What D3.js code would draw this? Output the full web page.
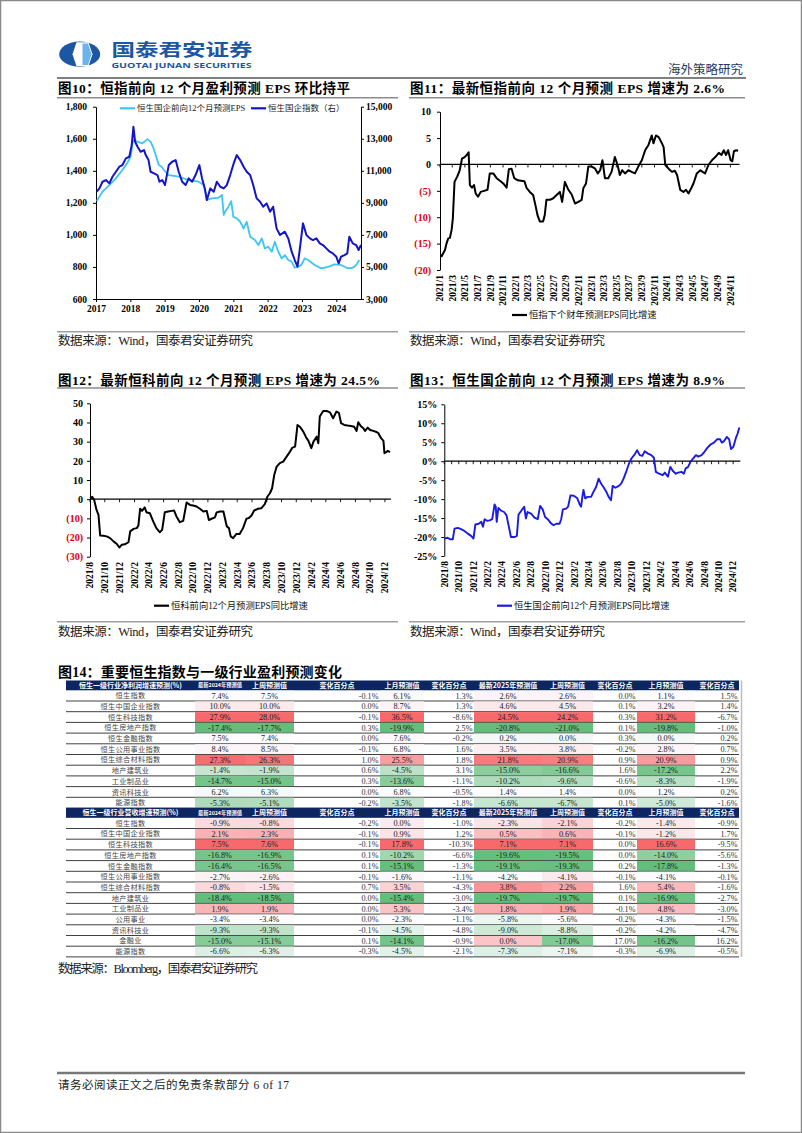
<!DOCTYPE html>
<html><head><meta charset="utf-8">
<script src="https://cdn.jsdelivr.net/npm/d3@7"></script>
<style>body{margin:0;background:#fff}svg{display:block}</style>
</head><body>
<svg id="page" width="802" height="1133"></svg>
<script>
// ---------------- DATA ----------------
// Fig 10: [decimal year, value]
const epsTicks = [600, 800, 1000, 1200, 1400, 1600, 1800];
const idxTicks = [3000, 5000, 7000, 9000, 11000, 13000, 15000];
const yearTicks = [2017, 2018, 2019, 2020, 2021, 2022, 2023, 2024];
const hsceiEps = [[2017.02,1211],[2017.19,1270],[2017.39,1311],[2017.58,1353],[2017.77,1405],[2017.92,1452],[2018.01,1488],[2018.08,1592],[2018.21,1582],[2018.35,1571],[2018.5,1598],[2018.59,1582],[2018.66,1550],[2018.74,1498],[2018.83,1436],[2018.91,1425],[2018.98,1405],[2019.12,1373],[2019.41,1363],[2019.7,1342],[2019.99,1332],[2020.14,1311],[2020.23,1218],[2020.38,1228],[2020.57,1232],[2020.67,1249],[2020.72,1124],[2020.76,1145],[2020.86,1176],[2020.94,1211],[2021.0,1113],[2021.1,1103],[2021.2,1082],[2021.3,1040],[2021.39,1082],[2021.49,989],[2021.63,968],[2021.73,937],[2021.83,978],[2021.92,916],[2022.02,926],[2022.12,895],[2022.21,957],[2022.31,895],[2022.41,854],[2022.5,874],[2022.6,843],[2022.7,833],[2022.79,795],[2022.89,801],[2022.98,812],[2023.08,853],[2023.18,843],[2023.37,812],[2023.56,791],[2023.76,801],[2023.95,816],[2024.14,812],[2024.24,801],[2024.34,791],[2024.48,795],[2024.58,812],[2024.67,843]];
const hsceiIndex = [[2017.02,9694],[2017.1,9902],[2017.19,10318],[2017.29,10422],[2017.39,10214],[2017.48,10630],[2017.58,10942],[2017.68,11254],[2017.77,11358],[2017.87,11773],[2017.97,11877],[2018.04,12605],[2018.09,13748],[2018.14,12813],[2018.21,12501],[2018.3,12189],[2018.4,12293],[2018.45,11981],[2018.53,11669],[2018.59,10942],[2018.69,10838],[2018.79,10734],[2018.85,10318],[2018.93,10422],[2019.01,10110],[2019.12,11358],[2019.22,11565],[2019.32,11669],[2019.41,10942],[2019.51,10318],[2019.61,10110],[2019.7,10526],[2019.8,10318],[2019.9,10734],[2020.01,11358],[2020.09,10526],[2020.17,9902],[2020.23,9175],[2020.33,9902],[2020.43,9694],[2020.52,10318],[2020.62,10006],[2020.72,9902],[2020.81,10110],[2020.91,10734],[2021.01,11461],[2021.1,11981],[2021.2,11669],[2021.3,11254],[2021.39,10942],[2021.49,10734],[2021.58,10110],[2021.68,9279],[2021.78,9071],[2021.87,8759],[2021.97,8967],[2022.07,8447],[2022.16,8759],[2022.26,7407],[2022.36,6992],[2022.5,7200],[2022.6,6784],[2022.7,5952],[2022.79,5432],[2022.87,5017],[2022.94,6160],[2023.03,7719],[2023.13,6992],[2023.23,6784],[2023.32,6680],[2023.42,6784],[2023.52,6472],[2023.61,6368],[2023.71,6160],[2023.81,5952],[2023.9,5848],[2024.0,5640],[2024.07,5225],[2024.14,5640],[2024.24,5744],[2024.32,5848],[2024.38,6888],[2024.48,6472],[2024.58,6368],[2024.65,6056],[2024.72,6368]];

// Fig 11
const c11YTicks = [-20, -15, -10, -5, 0, 5, 10];
const c11XLabels = ["2021/1","2021/3","2021/5","2021/7","2021/9","2021/11","2022/1","2022/3","2022/5","2022/7","2022/9","2022/11","2023/1","2023/3","2023/5","2023/7","2023/9","2023/11","2024/1","2024/3","2024/5","2024/7","2024/9","2024/11"];
const hsiEpsGrowth = [["2021-01-04",-17.1],["2021-01-09",-17.4],["2021-01-25",-16.2],["2021-02-02",-14.9],["2021-02-10",-14.0],["2021-02-18",-13.9],["2021-02-26",-12.4],["2021-03-04",-10.2],["2021-03-12",-3.3],["2021-03-25",-2.3],["2021-04-06",-1.1],["2021-04-17",1.1],["2021-04-30",1.4],["2021-05-12",1.9],["2021-05-19",2.3],["2021-05-25",-3.9],["2021-06-04",-4.4],["2021-06-14",-3.9],["2021-06-22",-5.5],["2021-07-03",-6.1],["2021-07-16",-5.2],["2021-08-02",-5.0],["2021-08-18",-4.8],["2021-08-29",-1.7],["2021-09-15",-1.7],["2021-10-01",-2.6],["2021-10-17",-3.1],["2021-11-02",-3.6],["2021-11-18",-4.4],["2021-11-29",-0.9],["2021-12-12",-0.8],["2021-12-25",-2.6],["2022-01-11",-3.0],["2022-01-27",-3.1],["2022-02-12",-3.2],["2022-02-23",-4.5],["2022-03-10",-5.2],["2022-03-26",-5.8],["2022-04-06",-7.7],["2022-04-16",-9.6],["2022-04-27",-10.8],["2022-05-13",-10.8],["2022-05-21",-9.6],["2022-05-29",-6.7],["2022-06-15",-6.7],["2022-07-01",-6.4],["2022-07-17",-5.8],["2022-08-02",-5.2],["2022-08-13",-7.1],["2022-08-26",-3.3],["2022-09-12",-4.8],["2022-09-28",-5.7],["2022-10-14",-7.4],["2022-10-30",-7.1],["2022-11-15",-6.7],["2022-11-23",-4.5],["2022-12-06",-3.6],["2022-12-17",-0.4],["2023-01-03",-0.4],["2023-01-19",-0.8],["2023-02-01",-1.7],["2023-02-12",-1.1],["2023-02-23",0.8],["2023-03-07",-2.6],["2023-03-23",-2.6],["2023-04-08",-1.4],["2023-04-24",1.4],["2023-05-07",-0.1],["2023-05-18",-2.0],["2023-05-29",-1.1],["2023-06-12",-1.7],["2023-06-28",-1.1],["2023-07-14",-1.4],["2023-07-30",-1.7],["2023-08-15",-0.4],["2023-09-01",0.8],["2023-09-17",2.7],["2023-10-03",3.7],["2023-10-19",5.5],["2023-10-27",4.0],["2023-11-08",5.5],["2023-11-21",5.2],["2023-12-07",4.0],["2023-12-15",3.3],["2023-12-23",-0.1],["2024-01-08",-0.8],["2024-01-24",-1.4],["2024-02-07",-1.2],["2024-02-18",-2.0],["2024-03-04",-4.8],["2024-03-20",-5.2],["2024-04-01",-4.8],["2024-04-13",-5.5],["2024-04-26",-4.5],["2024-05-07",-3.6],["2024-05-23",-1.7],["2024-06-09",-1.1],["2024-06-20",-1.4],["2024-07-02",-1.7],["2024-07-18",-0.1],["2024-08-04",0.8],["2024-08-20",1.4],["2024-09-06",2.2],["2024-09-19",1.8],["2024-09-30",2.7],["2024-10-11",1.8],["2024-10-21",2.7],["2024-11-02",0.8],["2024-11-10",0.6],["2024-11-18",2.5],["2024-11-29",2.7],["2024-12-08",2.6]];

// Fig 12
const c12YTicks = [-30, -20, -10, 0, 10, 20, 30, 40, 50];
const monthLabels2 = ["2021/8","2021/10","2021/12","2022/2","2022/4","2022/6","2022/8","2022/10","2022/12","2023/2","2023/4","2023/6","2023/8","2023/10","2023/12","2024/2","2024/4","2024/6","2024/8","2024/10","2024/12"];
const hstechEpsGrowth = [["2021-08-01",0.5],["2021-08-10",1.2],["2021-08-18",-0.3],["2021-08-28",-5.6],["2021-09-05",-8.2],["2021-09-12",-18.9],["2021-09-25",-19.1],["2021-10-09",-19.4],["2021-10-23",-20.3],["2021-11-06",-22.0],["2021-11-20",-23.4],["2021-11-30",-25.2],["2021-12-10",-23.8],["2021-12-24",-23.5],["2022-01-07",-22.4],["2022-01-14",-16.8],["2022-01-28",-15.5],["2022-02-10",-15.1],["2022-02-17",-13.7],["2022-02-24",-5.0],["2022-03-04",-6.1],["2022-03-15",-4.3],["2022-03-22",-6.8],["2022-04-05",-7.3],["2022-04-19",-11.6],["2022-05-02",-15.1],["2022-05-16",-17.2],["2022-05-26",-16.0],["2022-06-06",-6.8],["2022-06-20",-6.4],["2022-07-03",-6.1],["2022-07-14",-5.9],["2022-07-24",-9.0],["2022-08-07",-12.0],["2022-08-21",-11.3],["2022-09-04",-1.7],["2022-09-18",-3.0],["2022-10-01",-3.3],["2022-10-15",-3.8],["2022-10-29",-5.0],["2022-11-12",-6.4],["2022-11-26",-6.1],["2022-12-05",-10.9],["2022-12-16",-10.2],["2022-12-30",-9.5],["2023-01-06",-6.9],["2023-01-20",-6.4],["2023-02-03",-6.4],["2023-02-17",-14.2],["2023-02-26",-15.1],["2023-03-05",-19.4],["2023-03-15",-20.3],["2023-03-28",-18.2],["2023-04-11",-18.2],["2023-04-25",-15.1],["2023-05-09",-10.2],["2023-05-18",-9.9],["2023-05-30",-8.5],["2023-06-10",-5.9],["2023-06-26",-5.0],["2023-07-10",-4.7],["2023-07-24",-2.6],["2023-08-04",1.4],["2023-08-14",3.1],["2023-08-23",5.7],["2023-09-01",12.7],["2023-09-11",17.0],["2023-09-24",18.8],["2023-10-08",19.6],["2023-10-22",22.2],["2023-11-05",24.8],["2023-11-15",26.9],["2023-11-26",27.4],["2023-12-06",38.7],["2023-12-16",37.8],["2023-12-30",35.2],["2024-01-09",32.6],["2024-01-20",30.4],["2024-02-01",26.6],["2024-02-10",30.0],["2024-02-23",32.6],["2024-03-01",29.2],["2024-03-07",43.1],["2024-03-21",46.0],["2024-04-04",46.0],["2024-04-18",45.3],["2024-05-01",42.2],["2024-05-15",45.7],["2024-05-25",45.0],["2024-06-03",39.6],["2024-06-16",38.7],["2024-06-30",38.4],["2024-07-13",38.2],["2024-07-27",37.8],["2024-08-06",35.6],["2024-08-13",40.1],["2024-08-24",38.0],["2024-09-03",37.0],["2024-09-10",35.6],["2024-09-21",37.3],["2024-10-01",36.1],["2024-10-14",35.6],["2024-10-24",35.2],["2024-11-04",34.4],["2024-11-15",31.8],["2024-11-25",30.4],["2024-11-29",24.0],["2024-12-06",24.5],["2024-12-13",25.2],["2024-12-22",24.5]];

// Fig 13
const c13YTicks = [-25, -20, -15, -10, -5, 0, 5, 10, 15];
const hsceiEpsGrowth = [["2021-08-01",-20.4],["2021-08-15",-20.2],["2021-08-25",-20.6],["2021-09-06",-20.6],["2021-09-13",-17.8],["2021-09-27",-17.6],["2021-10-11",-17.9],["2021-10-25",-18.4],["2021-11-08",-19.1],["2021-11-22",-19.7],["2021-12-02",-20.4],["2021-12-10",-16.7],["2021-12-24",-16.5],["2022-01-04",-16.0],["2022-01-11",-17.3],["2022-01-18",-15.3],["2022-01-28",-15.7],["2022-02-08",-15.6],["2022-02-19",-15.3],["2022-03-01",-11.4],["2022-03-06",-12.0],["2022-03-10",-16.0],["2022-03-17",-12.3],["2022-03-27",-13.0],["2022-04-10",-13.4],["2022-04-20",-14.2],["2022-04-29",-16.9],["2022-05-09",-20.0],["2022-05-23",-20.0],["2022-06-03",-19.7],["2022-06-10",-14.1],["2022-06-20",-13.2],["2022-07-04",-12.0],["2022-07-11",-15.1],["2022-07-18",-13.4],["2022-08-02",-13.8],["2022-08-16",-14.9],["2022-08-30",-15.3],["2022-09-09",-11.8],["2022-09-20",-12.7],["2022-09-30",-14.7],["2022-10-11",-15.3],["2022-10-25",-16.4],["2022-11-05",-16.9],["2022-11-16",-16.5],["2022-11-30",-16.5],["2022-12-07",-15.3],["2022-12-14",-12.7],["2022-12-28",-12.5],["2023-01-05",-12.0],["2023-01-15",-9.0],["2023-01-29",-9.1],["2023-02-12",-9.7],["2023-02-23",-11.4],["2023-03-01",-12.0],["2023-03-07",-9.0],["2023-03-11",-7.6],["2023-03-18",-9.8],["2023-03-28",-9.4],["2023-04-12",-9.4],["2023-04-22",-8.1],["2023-05-03",-6.8],["2023-05-14",-4.6],["2023-05-24",-5.9],["2023-06-03",-6.8],["2023-06-14",-7.9],["2023-06-25",-9.4],["2023-07-05",-10.3],["2023-07-12",-6.5],["2023-07-24",-7.0],["2023-08-07",-6.5],["2023-08-17",-5.9],["2023-08-27",-4.6],["2023-09-08",-2.6],["2023-09-19",-0.6],["2023-09-29",0.7],["2023-10-13",1.8],["2023-10-23",2.9],["2023-11-03",1.6],["2023-11-14",1.4],["2023-11-24",2.6],["2023-12-08",2.0],["2023-12-22",1.6],["2024-01-02",0.9],["2024-01-10",-2.8],["2024-01-24",-3.3],["2024-02-08",-3.7],["2024-02-17",-3.0],["2024-03-01",-4.1],["2024-03-11",-1.5],["2024-03-22",-2.6],["2024-04-03",-3.3],["2024-04-13",-3.0],["2024-04-27",-2.8],["2024-05-07",-3.3],["2024-05-15",-1.9],["2024-05-25",-1.5],["2024-06-04",-0.2],["2024-06-15",0.7],["2024-06-27",1.6],["2024-07-07",1.2],["2024-07-21",1.6],["2024-07-31",2.3],["2024-08-14",3.5],["2024-08-28",4.4],["2024-09-11",4.9],["2024-09-25",5.8],["2024-10-07",5.8],["2024-10-14",4.9],["2024-10-24",5.3],["2024-11-04",6.4],["2024-11-14",5.8],["2024-11-22",3.2],["2024-12-02",3.8],["2024-12-13",6.2],["2024-12-20",7.3],["2024-12-27",8.9]];

// Fig 14 table
const npHeader = ["恒生一级行业净利润增速预测(%)","最新2024年预测值","上周预测值","变化百分点","上月预测值","变化百分点","最新2025年预测值","上周预测值","变化百分点","上月预测值","变化百分点"];
const revHeader = ["恒生一级行业营收增速预测(%)","最新2024年预测值","上周预测值","变化百分点","上月预测值","变化百分点","最新2025年预测值","上周预测值","变化百分点","上月预测值","变化百分点"];
const npLabels = ["恒生指数","恒生中国企业指数","恒生科技指数","恒生房地产指数","恒生金融指数","恒生公用事业指数","恒生综合材料指数","地产建筑业","工业制品业","资讯科技业","能源指数"];
const npRows = [
  [7.4,7.5,-0.1,6.1,1.3,2.6,2.6,0.0,1.1,1.5],
  [10.0,10.0,0.0,8.7,1.3,4.6,4.5,0.1,3.2,1.4],
  [27.9,28.0,-0.1,36.5,-8.6,24.5,24.2,0.3,31.2,-6.7],
  [-17.4,-17.7,0.3,-19.9,2.5,-20.8,-21.0,0.1,-19.8,-1.0],
  [7.5,7.4,0.0,7.6,-0.2,0.2,0.0,0.3,0.0,0.2],
  [8.4,8.5,-0.1,6.8,1.6,3.5,3.8,-0.2,2.8,0.7],
  [27.3,26.3,1.0,25.5,1.8,21.8,20.9,0.9,20.9,0.9],
  [-1.4,-1.9,0.6,-4.5,3.1,-15.0,-16.6,1.6,-17.2,2.2],
  [-14.7,-15.0,0.3,-13.6,-1.1,-10.2,-9.6,-0.6,-8.3,-1.9],
  [6.2,6.3,0.0,6.8,-0.5,1.4,1.4,0.0,1.2,0.2],
  [-5.3,-5.1,-0.2,-3.5,-1.8,-6.6,-6.7,0.1,-5.0,-1.6]
];
const revLabels = ["恒生指数","恒生中国企业指数","恒生科技指数","恒生房地产指数","恒生金融指数","恒生公用事业指数","恒生综合材料指数","地产建筑业","工业制品业","公用事业","资讯科技业","金融业","能源指数"];
const revRows = [
  [-0.9,-0.8,-0.2,0.0,-1.0,-2.3,-2.1,-0.2,-1.4,-0.9],
  [2.1,2.3,-0.1,0.9,1.2,0.5,0.6,-0.1,-1.2,1.7],
  [7.5,7.6,-0.1,17.8,-10.3,7.1,7.1,0.0,16.6,-9.5],
  [-16.8,-16.9,0.1,-10.2,-6.6,-19.6,-19.5,0.0,-14.0,-5.6],
  [-16.4,-16.5,0.1,-15.1,-1.3,-19.1,-19.3,0.2,-17.8,-1.3],
  [-2.7,-2.6,-0.1,-1.6,-1.1,-4.2,-4.1,-0.1,-4.1,-0.1],
  [-0.8,-1.5,0.7,3.5,-4.3,3.8,2.2,1.6,5.4,-1.6],
  [-18.4,-18.5,0.0,-15.4,-3.0,-19.7,-19.7,0.1,-16.9,-2.7],
  [1.9,1.9,0.0,5.3,-3.4,1.8,1.9,-0.1,4.8,-3.0],
  [-3.4,-3.4,0.0,-2.3,-1.1,-5.8,-5.6,-0.2,-4.3,-1.5],
  [-9.3,-9.3,-0.1,-4.5,-4.8,-9.0,-8.8,-0.2,-4.2,-4.7],
  [-15.0,-15.1,0.1,-14.1,-0.9,0.0,-17.0,17.0,-16.2,16.2],
  [-6.6,-6.3,-0.3,-4.5,-2.1,-7.3,-7.1,-0.3,-6.9,-0.5]
];

// ---------------- DRAWING ----------------
const SERIF = '"Liberation Serif","Noto Sans CJK SC",serif';
const CJK = '"Noto Sans CJK SC","Liberation Serif",sans-serif';
const svg = d3.select("#page");
const parse = d3.timeParse("%Y-%m-%d");
const ym = s => { const [y, m] = s.split("/").map(Number); return new Date(y, m - 1, 1); };

svg.append("rect").attr("x",0.5).attr("y",0.5).attr("width",801).attr("height",1132)
  .attr("fill","#fff").attr("stroke","#8a8a8a").attr("stroke-width",1.5);

// Header / logo
const logo = svg.append("g");
logo.append("ellipse").attr("cx",79.7).attr("cy",54.2).attr("rx",20.5).attr("ry",12.6).attr("fill","#1D56A3");
logo.append("polygon").attr("points","72.5,54.2 76.5,42.2 88.5,42.2 92.5,54.2 88.5,66.2 76.5,66.2").attr("fill","#fff");
logo.append("polygon").attr("points","82.5,43.5 88,43.5 91.5,54.2 88,65 82.5,65").attr("fill","#6FB3EC");
svg.append("text").attr("x",111.5).attr("y",55.5).attr("font-family",CJK).attr("font-weight","bold")
  .attr("font-size",17).attr("fill","#1D56A3").attr("textLength",141).attr("lengthAdjust","spacingAndGlyphs").text("国泰君安证券");
svg.append("text").attr("x",111.5).attr("y",67.5).attr("font-family",'"Open Sans","DejaVu Sans",sans-serif').attr("font-weight","bold")
  .attr("font-size",6.8).attr("fill","#1D56A3").attr("textLength",140).attr("lengthAdjust","spacingAndGlyphs").text("GUOTAI JUNAN SECURITIES");
svg.append("text").attr("x",743).attr("y",74).attr("text-anchor","end").attr("font-family",CJK)
  .attr("font-size",12.5).attr("fill","#1F3864").attr("textLength",75).text("海外策略研究");
svg.append("line").attr("x1",57).attr("x2",746).attr("y1",78).attr("y2",78).attr("stroke","#555").attr("stroke-width",1.3);

function title(x, y, w, txt, fs) {
  svg.append("text").attr("x",x).attr("y",y).attr("font-family",SERIF).attr("font-weight","bold")
    .attr("font-size",fs || 13.5).attr("fill","#000").attr("textLength",w).attr("lengthAdjust","spacing").text(txt);
}
function hline(x1, x2, y, col, w) {
  svg.append("line").attr("x1",x1).attr("x2",x2).attr("y1",y).attr("y2",y).attr("stroke",col).attr("stroke-width",w);
}
function source(x, y, w, txt) {
  svg.append("text").attr("x",x).attr("y",y).attr("font-family",SERIF).attr("font-size",12.5)
    .attr("fill","#222").attr("textLength",w).attr("lengthAdjust","spacing").text(txt);
}
function styleAxis(g, fs) {
  g.attr("font-family",SERIF).attr("font-size",fs || 9.5).attr("font-weight","bold");
  g.selectAll("path.domain").attr("stroke","#000").attr("stroke-width",1);
  g.selectAll(".tick line").attr("stroke","#000");
  g.selectAll(".tick text").attr("fill","#000");
}

// Titles and rules
title(58, 93, 292, "图10：恒指前向 12 个月盈利预测 EPS 环比持平");
title(410, 93, 315, "图11：最新恒指前向 12 个月预测 EPS 增速为 2.6%");
hline(57, 398, 97.8, "#8c8c8c", 1.6); hline(409, 745, 97.8, "#8c8c8c", 1.6);
hline(57, 398, 331.7, "#a0a0a0", 1.4); hline(409, 745, 331.7, "#a0a0a0", 1.4);
source(58, 344.5, 195, "数据来源：Wind，国泰君安证券研究");
source(410, 344.5, 195, "数据来源：Wind，国泰君安证券研究");

title(58, 384.5, 322, "图12：最新恒科前向 12 个月预测 EPS 增速为 24.5%");
title(410, 384.5, 315, "图13：恒生国企前向 12 个月预测 EPS 增速为 8.9%");
hline(57, 398, 388, "#8c8c8c", 1.6); hline(409, 745, 388, "#8c8c8c", 1.6);
hline(57, 398, 621.7, "#a0a0a0", 1.4); hline(409, 745, 621.7, "#a0a0a0", 1.4);
source(58, 636, 195, "数据来源：Wind，国泰君安证券研究");
source(410, 636, 195, "数据来源：Wind，国泰君安证券研究");

// ---- Fig 10 ----
{
  const x = d3.scaleLinear().domain([2017, 2024.72]).range([96, 361]);
  const yL = d3.scaleLinear().domain([600, 1800]).range([299, 106.7]);
  const yR = d3.scaleLinear().domain([3000, 15000]).range([299, 106.7]);
  const gl = svg.append("g").attr("transform","translate(96,0)")
    .call(d3.axisLeft(yL).tickValues(epsTicks).tickFormat(d3.format(",")).tickSize(3).tickPadding(6).tickSizeOuter(0));
  styleAxis(gl, 9.5);
  const gr = svg.append("g").attr("transform","translate(361,0)")
    .call(d3.axisRight(yR).tickValues(idxTicks).tickFormat(d3.format(",")).tickSize(3).tickPadding(2).tickSizeOuter(0));
  styleAxis(gr, 9.5);
  const gb = svg.append("g").attr("transform","translate(0,299)")
    .call(d3.axisBottom(x).tickValues(yearTicks).tickFormat(d3.format("d")).tickSize(3).tickPadding(3).tickSizeOuter(0));
  styleAxis(gb, 9.5);
  svg.append("path").datum(hsceiEps).attr("fill","none").attr("stroke","#3DC6F2").attr("stroke-width",1.8)
    .attr("stroke-linejoin","round").attr("d", d3.line().x(d=>x(d[0])).y(d=>yL(d[1])));
  svg.append("path").datum(hsceiIndex).attr("fill","none").attr("stroke","#1414C8").attr("stroke-width",2)
    .attr("stroke-linejoin","round").attr("d", d3.line().x(d=>x(d[0])).y(d=>yR(d[1])));
  const lg = [["#3DC6F2",120,"恒生国企前向12个月预测EPS"],["#1414C8",251,"恒生国企指数（右）"]];
  lg.forEach(([c, lx, t]) => {
    svg.append("line").attr("x1",lx).attr("x2",lx+15).attr("y1",108.3).attr("y2",108.3).attr("stroke",c).attr("stroke-width",2.2);
    svg.append("text").attr("x",lx+17).attr("y",111.3).attr("font-family",SERIF).attr("font-size",8.5).attr("fill","#222").text(t);
  });
}

// generic growth line chart
function growthChart(o) {
  const x = d3.scaleTime().domain(o.xDomain).range([o.x0, o.x1]);
  const y = d3.scaleLinear().domain([o.yTicks[0], o.yTicks[o.yTicks.length-1]]).range([o.yBottom, o.yTop]);
  const ga = svg.append("g").attr("transform",`translate(${o.x0},0)`)
    .call(d3.axisLeft(y).tickValues(o.yTicks).tickFormat(o.fmt).tickSize(3).tickPadding(o.pad).tickSizeOuter(0));
  styleAxis(ga, 10);
  if (o.redNeg) ga.selectAll(".tick text").attr("fill", d => d < 0 ? "#E00000" : "#000");
  svg.append("line").attr("x1",o.x0).attr("x2",o.x1+1).attr("y1",y(0)).attr("y2",y(0)).attr("stroke","#000").attr("stroke-width",1.3);
  o.tickDates.forEach(dt => {
    svg.append("line").attr("x1",x(dt)).attr("x2",x(dt)).attr("y1",y(0)).attr("y2",y(0)+3).attr("stroke","#000").attr("stroke-width",0.9);
  });
  o.labels.forEach(l => {
    svg.append("text").attr("transform",`translate(${x(ym(l))},${o.labelTop}) rotate(-90)`)
      .attr("text-anchor","end").attr("dy","0.35em").attr("font-family",SERIF).attr("font-weight","bold")
      .attr("font-size",9.5).attr("fill","#000").text(l);
  });
  svg.append("path").datum(o.data).attr("fill","none").attr("stroke",o.color).attr("stroke-width",o.lw)
    .attr("stroke-linejoin","round").attr("d", d3.line().x(d=>x(parse(d[0]))).y(d=>y(d[1])));
  svg.append("line").attr("x1",o.legX).attr("x2",o.legX+15).attr("y1",o.legY).attr("y2",o.legY).attr("stroke",o.color).attr("stroke-width",2.2);
  svg.append("text").attr("x",o.legX+17).attr("y",o.legY+3.2).attr("font-family",SERIF).attr("font-size",9.3)
    .attr("fill","#111").text(o.legend);
}
const negParen = d => d < 0 ? `(${-d})` : `${d}`;

growthChart({
  x0: 440, x1: 738.5, yTop: 111.7, yBottom: 270, yTicks: c11YTicks, fmt: negParen, pad: 6, redNeg: true,
  xDomain: [new Date(2021,0,1), new Date(2024,11,10)],
  tickDates: c11XLabels.map(ym), labels: c11XLabels, labelTop: 275,
  data: hsiEpsGrowth, color: "#000", lw: 2,
  legX: 512, legY: 315, legend: "恒指下个财年预测EPS同比增速"
});
growthChart({
  x0: 90, x1: 390, yTop: 403.3, yBottom: 556.7, yTicks: c12YTicks, fmt: negParen, pad: 4, redNeg: true,
  xDomain: [new Date(2021,7,1), new Date(2024,11,22)],
  tickDates: monthLabels2.map(ym), labels: monthLabels2, labelTop: 562,
  data: hstechEpsGrowth, color: "#000", lw: 2,
  legX: 154, legY: 605.7, legend: "恒科前向12个月预测EPS同比增速"
});
growthChart({
  x0: 444.3, x1: 739.3, yTop: 404.3, yBottom: 556, yTicks: c13YTicks, fmt: d => d + "%", pad: 4, redNeg: false,
  xDomain: [new Date(2021,7,1), new Date(2024,11,27)],
  tickDates: d3.timeMonth.range(new Date(2021,7,1), new Date(2024,11,28)), labels: monthLabels2, labelTop: 561,
  data: hsceiEpsGrowth, color: "#1A1AE6", lw: 1.9,
  legX: 497, legY: 605.7, legend: "恒生国企前向12个月预测EPS同比增速"
});

// ---- Fig 14 table ----
title(58, 677, 284, "图14：重要恒生指数与一级行业盈利预测变化", 14);
const tblX = [66,195,245,294,380,424,474,542,593,637,695,739];
const colored = [0,1,3,5,6,8];
const headH = 9.8, rowH = 10.7, navy = "#0D2661";
const cMin = "#63BE7B", cMid = "#FCFCFF", cMax = "#F8696B";
function colorFor(vals) {
  const lo = d3.min(vals), hi = d3.max(vals), med = d3.median(vals);
  const g = d3.interpolateRgb(cMin, cMid), r = d3.interpolateRgb(cMid, cMax);
  return v => v <= med ? g(med === lo ? 1 : (v - lo) / (med - lo)) : r((v - med) / (hi - med));
}
function drawTable(y0, head, labels, rows) {
  const g = svg.append("g");
  g.append("rect").attr("x",tblX[0]).attr("y",y0).attr("width",tblX[11]-tblX[0]).attr("height",headH).attr("fill",navy);
  head.forEach((h, i) => {
    const t = g.append("text").attr("x",(tblX[i]+tblX[i+1])/2).attr("y",y0+headH/2).attr("dy","0.36em")
      .attr("text-anchor","middle").attr("font-family",CJK).attr("font-weight","bold")
      .attr("font-size",7).attr("fill","#fff").text(h);
    const maxW = i === 0 ? 112 : (tblX[i+1] - tblX[i]) - 6;
    const w = t.node().getComputedTextLength();
    if (w > maxW) t.attr("font-size", 7 * maxW / w);
  });
  const scales = {};
  colored.forEach(ci => scales[ci] = colorFor(rows.map(r => r[ci])));
  rows.forEach((r, ri) => {
    const ry = y0 + headH + ri * rowH;
    g.append("text").attr("x",(tblX[0]+tblX[1])/2).attr("y",ry+rowH/2).attr("dy","0.36em")
      .attr("text-anchor","middle").attr("font-family",CJK).attr("font-size",7.2).attr("fill","#444")
      .attr("letter-spacing",0.3).text(labels[ri]);
    r.forEach((v, vi) => {
      const xa = tblX[vi+1], xb = tblX[vi+2];
      const txt = v.toFixed(1) + "%";
      if (colored.includes(vi)) {
        g.append("rect").attr("x",xa).attr("y",ry+0.4).attr("width",xb-xa).attr("height",rowH-0.8).attr("fill",scales[vi](v));
        g.append("text").attr("x",(xa+xb)/2).attr("y",ry+rowH/2).attr("dy","0.35em").attr("text-anchor","middle")
          .attr("font-family",SERIF).attr("font-size",8.2).attr("fill","#222").text(txt);
      } else {
        g.append("text").attr("x",xb-1.5).attr("y",ry+rowH/2).attr("dy","0.35em").attr("text-anchor","end")
          .attr("font-family",SERIF).attr("font-size",8.2).attr("fill","#333").text(txt);
      }
    });
    g.append("line").attr("x1",tblX[0]).attr("x2",tblX[11]).attr("y1",ry+rowH).attr("y2",ry+rowH)
      .attr("stroke","#2a2a2a").attr("stroke-width",0.9);
  });
  return y0 + headH + rows.length * rowH;
}
const yEnd1 = drawTable(680.5, npHeader, npLabels, npRows);
const yEnd2 = drawTable(yEnd1, revHeader, revLabels, revRows);
svg.append("line").attr("x1",741.5).attr("x2",741.5).attr("y1",680.5).attr("y2",yEnd2).attr("stroke","#bdbdbd").attr("stroke-width",1.5);
source(58, 972.5, 200, "数据来源：Bloomberg，国泰君安证券研究");

// Footer
hline(57, 745, 1073, "#777", 2.4);
svg.append("text").attr("x",58).attr("y",1089).attr("font-family",SERIF).attr("font-size",11.5)
  .attr("fill","#222").attr("textLength",231).attr("lengthAdjust","spacing").text("请务必阅读正文之后的免责条款部分 6 of 17");
</script>
</body></html>
